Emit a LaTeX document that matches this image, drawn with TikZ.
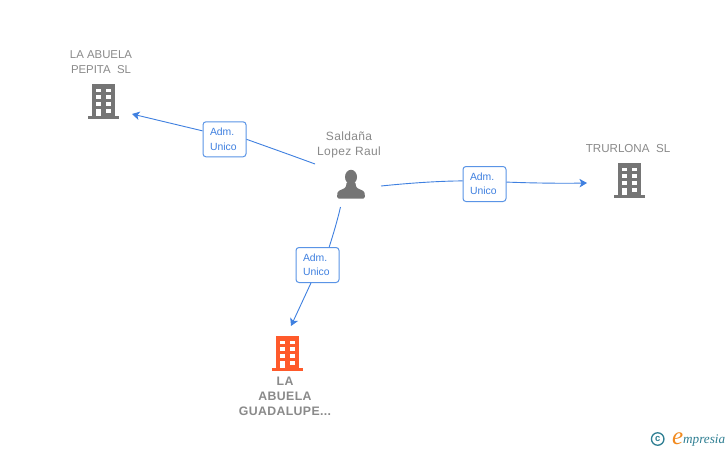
\documentclass[tikz,border=0pt]{standalone}
\usepackage{fontspec}
\setmainfont{Liberation Sans}
\newfontfamily\logofont{Liberation Serif}
\usetikzlibrary{arrows.meta}
\definecolor{linkblue}{HTML}{3F80E0}
\definecolor{boxblue}{HTML}{5A94E6}
\definecolor{txtgray}{HTML}{8A8A8A}
\definecolor{icongray}{HTML}{757575}
\definecolor{iconorange}{HTML}{FF5A2B}
\definecolor{logoteal}{HTML}{2F7F93}
\definecolor{logoorange}{HTML}{F28A1E}
\tikzset{
  link/.style={draw=linkblue,line width=0.9pt},
  arrowlink/.style={link,-{Stealth[length=7.5pt,width=8.5pt,inset=2pt]}},
  rolebox/.style={draw=boxblue,fill=white,line width=1pt,rounded corners=3pt,minimum height=35pt,inner ysep=0pt,inner xsep=7pt,text width=29pt,text=linkblue,font=\fontsize{10.4}{14.5}\selectfont,align=left},
  namelabel/.style={text=txtgray,font=\fontsize{11.4}{15}\selectfont,align=center,inner sep=0pt},
  trackedlabel/.style={namelabel,font=\fontsize{12}{15}\selectfont\addfontfeature{LetterSpace=3}},
  boldlabel/.style={namelabel,font=\fontsize{12.3}{14.8}\selectfont\bfseries\addfontfeature{LetterSpace=3}},
  iconbox/.style={inner sep=0pt,minimum width=32pt,minimum height=34pt},
  pics/building/.style={code={
    \fill[#1] (-11.5,-17) rectangle (11.5,15);
    \fill[#1] (-15.5,14.5) rectangle (16,17.5);
    \foreach \wy in {-12.5,-5.8,0.9}{
      \fill[white] (-7,\wy) rectangle (-2.5,\wy+3.8);
      \fill[white] (2.5,\wy) rectangle (7.5,\wy+3.8);
    }
    \fill[white] (-7,7.5) rectangle (-2.5,15);
    \fill[white] (2.5,7.5) rectangle (7.5,11.5);
  }},
}
\begin{document}
\begin{tikzpicture}[x=1pt,y=-1pt]
\useasboundingbox (0,0) rectangle (728,450);
\fill[white] (0,0) rectangle (728,450);
% icons
\node[iconbox] (pepita) at (103,101) {};
\pic at (pepita.center) {building=icongray};
\node[iconbox] (trurlona) at (629,180) {};
\pic at (trurlona.center) {building=icongray};
\node[iconbox] (guadalupe) at (287,353) {};
\pic at (guadalupe.center) {building=iconorange};
\node[iconbox,minimum width=28pt,minimum height=30pt] (raul) at (351,184) {};
\fill[icongray] (raul.center) ++(0,-7) circle[x radius=6,y radius=7.2];
\fill[icongray,rounded corners=1.5pt] (337,198.5) -- (337.5,191.5) -- (346,187.5) -- (346.5,182) -- (355.5,182) -- (356,187.5) -- (364.5,191.5) -- (365,198.5) -- cycle;
% labels
\node[namelabel] (lblpepita) at (101,62.5) {LA ABUELA\\PEPITA\ \ SL};
\node[trackedlabel] (lblraul) at (349,144.5) {Saldaña\\Lopez Raul};
\node[namelabel,font=\fontsize{11.6}{15}\selectfont] (lbltrurlona) at (628,149) {TRURLONA\ \ SL};
\node[boldlabel] (lblguad) at (285,396.5) {LA\\ABUELA\\GUADALUPE...};
% role boxes
\node[rolebox] (roleA) at (224.5,139.3) {Adm.\\Unico};
\node[rolebox] (roleB) at (484.5,184) {Adm.\\Unico};
\node[rolebox] (roleC) at (317.5,265) {Adm.\\Unico};
% free connector ends
\coordinate (startA) at (315,164);
\coordinate (endA) at (132,114);
\coordinate (startB) at (381,186);
\coordinate (endB) at (587,183);
\coordinate (startC) at (340.5,207);
\coordinate (endC) at (291,326);
% connectors
\draw[link] (startA) .. controls (292,155.5) and (268,147) .. (roleA.east);
\draw[arrowlink] (roleA.159) -- (endA);
\draw[link] (startB) .. controls (410,183) and (440,181) .. (roleB.172);
\draw[arrowlink] (roleB.5) .. controls (530,183) and (560,183.5) .. (endB);
\draw[link] (startC) .. controls (337,222) and (333,235) .. (roleC.57);
\draw[arrowlink] (roleC.250) -- (endC);
% logo
\node[circle,draw=logoteal,line width=1.3pt,minimum size=12.5pt,inner sep=0pt,text=logoteal,font=\bfseries\fontsize{9.5}{9.5}\selectfont] (logoc) at (657.7,439) {c};
\node[anchor=base west,inner sep=0pt,text=logoorange,font=\logofont\itshape\fontsize{25}{25}\selectfont] (logoe) at (672,444) {e};
\node[anchor=base west,inner sep=0pt,text=logoteal,font=\logofont\itshape\fontsize{13.2}{14}\selectfont] (logot) at (683,443.5) {mpresia};
\end{tikzpicture}
\end{document}
